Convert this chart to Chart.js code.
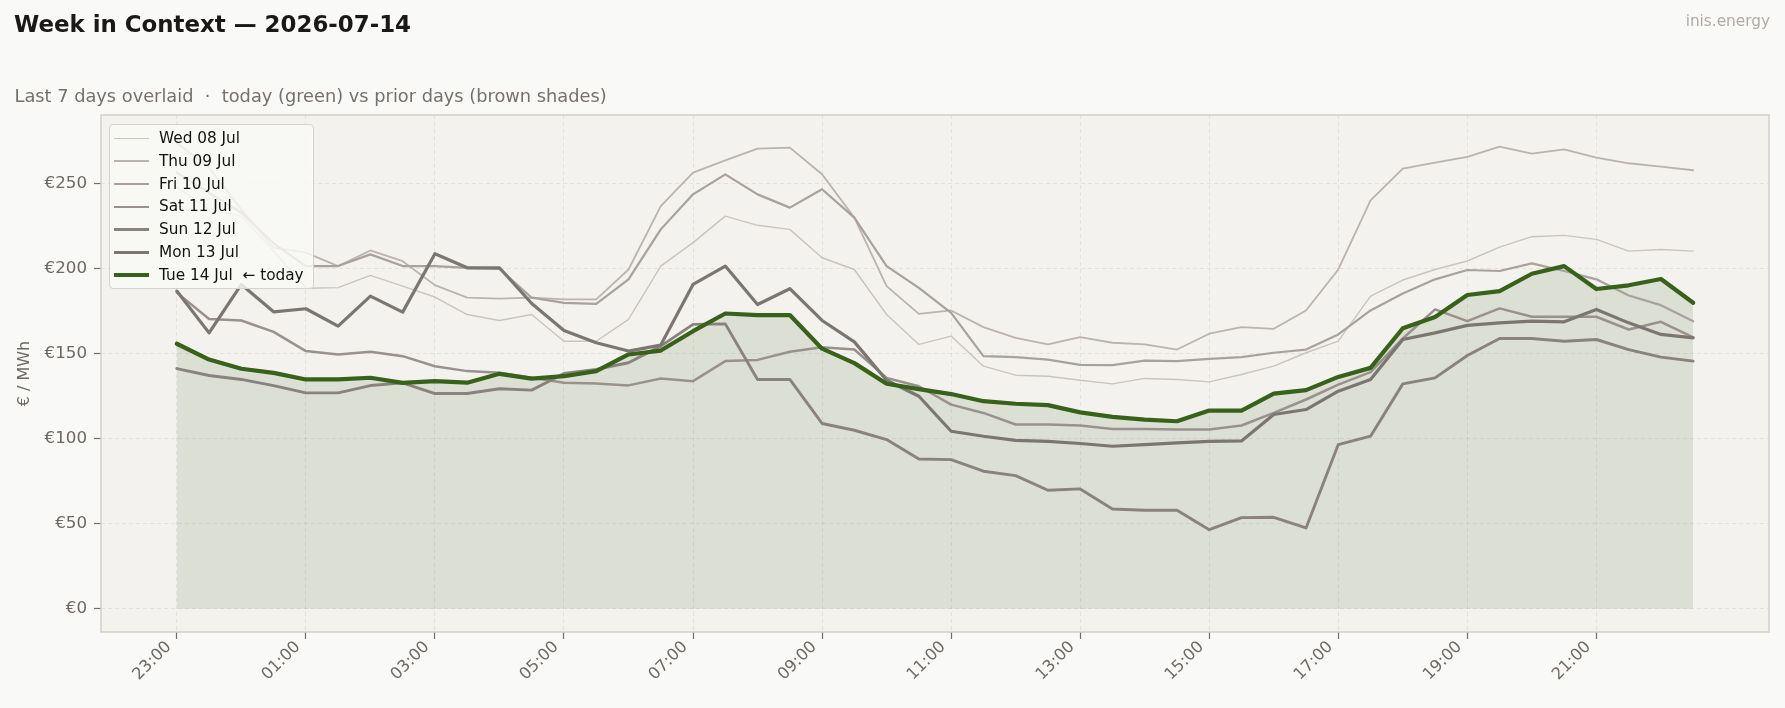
<!DOCTYPE html>
<html>
<head>
<meta charset="utf-8">
<script src="https://cdn.jsdelivr.net/npm/chart.js@4/dist/chart.umd.min.js"></script>
<style>
    html, body { margin: 0; padding: 0; background: #f9f9f7; }
    #wrap { position: relative; width: 1785px; height: 708px; font-family: 'DejaVu Sans', sans-serif; overflow: hidden; }
    #chart { position: absolute; left: 0; top: 0; }
    .title { position: absolute; left: 14px; top: 12.5px; font-size: 22.9px; line-height: 22.9px; font-weight: bold; color: #1a1818; white-space: pre; }
    .subtitle { position: absolute; left: 14.5px; top: 86.5px; font-size: 17.8px; line-height: 17.8px; color: #75706b; white-space: pre; }
    .brand { position: absolute; right: 15px; top: 14px; font-size: 15.3px; line-height: 15.3px; color: #b0aba7; }
    .legend { position: absolute; left: 109px; top: 124px; width: 205px; height: 165px; box-sizing: border-box;
              background: rgba(249, 249, 247, 0.82); border: 1px solid #d6d2cd; border-radius: 4px; padding-top: 2px; }
    .legend .row { position: relative; height: 22.8px; line-height: 22.8px; font-size: 15.3px; color: #111; white-space: pre; }
    .legend .swatch { position: absolute; left: 3.5px; width: 35px; }
    .legend .txt { position: absolute; left: 49px; top: 0; }
</style>
</head>
<body>
<div id="wrap">
    <canvas id="chart" width="1785" height="708"></canvas>
    <div class="title">Week in Context — 2026-07-14</div>
    <div class="subtitle">Last 7 days overlaid  ·  today (green) vs prior days (brown shades)</div>
    <div class="brand">inis.energy</div>
    <div class="legend" id="legend"></div>
</div>
<script>
// Half-hour slots, day starts at 23:00
const halfHours = ['23:00','23:30','00:00','00:30','01:00','01:30','02:00','02:30','03:00','03:30',
    '04:00','04:30','05:00','05:30','06:00','06:30','07:00','07:30','08:00','08:30',
    '09:00','09:30','10:00','10:30','11:00','11:30','12:00','12:30','13:00','13:30',
    '14:00','14:30','15:00','15:30','16:00','16:30','17:00','17:30','18:00','18:30',
    '19:00','19:30','20:00','20:30','21:00','21:30','22:00','22:30'];

const priceTicks = [0, 50, 100, 150, 200, 250];

// Prices in EUR/MWh
const wed08 = [248,235,231,210.5,188.6,188.9,196.1,189.8,183.4,173.1,
    169.6,173.1,157.4,157.4,170.2,201.6,215.4,231,225.6,223.2,
    206.5,199.6,173.1,155.5,160.4,142.7,137.4,136.8,134.4,132.3,
    135.5,134.9,133.5,137.8,142.7,150.6,157.4,183.9,193.4,199.6,
    204.6,212.8,218.9,219.7,217.3,210.4,211.4,210.4];
const thu09 = [274,259.5,235,212.4,209.5,201.6,210.8,204.5,190.4,183,
    182.4,183,182,182,199.6,236.9,256.6,263.8,270.7,271.3,
    255.6,230.1,189.8,173.5,175.5,165.7,159.4,155.5,159.8,156.5,
    155.5,152.5,161.8,165.7,164.7,175.5,199.6,240.3,258.9,262.5,
    265.8,271.9,267.8,270.3,265.4,262.1,260.1,258];
const fri10 = [256.6,244.8,233,215,201.6,201.6,208.5,201.6,201.6,200.6,
    200,183,180,179.4,193.8,223.2,243.8,255.6,243.8,236,
    246.8,230.1,201.6,188.8,174.1,148.6,148,146.6,143.5,143.3,
    146,145.7,147,148,150.6,152.5,161.4,175.5,185.5,193.8,
    199.3,198.7,203.2,198.7,193.8,184.3,178.6,169.2];
const sat11 = [186,170.5,169.6,162.9,151.6,149.6,151.2,148.6,142.7,139.8,
    138.8,135.9,132.9,132.5,131.4,135.5,133.9,145.7,146.4,151.2,
    153.9,152.5,135.8,130.9,120.1,115.2,108.4,108.4,107.8,105.8,
    105.8,105.4,105.4,107.8,115.2,123.1,131.9,139.2,159,176.1,
    169.2,176.7,171.8,171.8,171.8,164.3,168.8,159.6];
const sun12 = [141.3,137.2,134.9,131.3,127,127,131.3,132.9,126.6,126.6,
    129.4,128.6,138.4,140.8,144.7,154.5,167.3,167.6,134.9,134.9,
    109,105,99.5,88.1,87.7,80.9,78.3,69.7,70.5,58.7,
    57.9,57.9,46.5,53.6,53.8,47.5,96.6,101.5,132.3,135.8,
    149,159,159,157.4,158.4,152.5,148,145.7];
const mon13 = [186.9,162.3,190.8,174.7,176.5,166.3,183.9,174.5,208.9,200.6,
    200.6,179.6,163.7,156.5,151.6,155.1,190.8,201.6,179,188.3,
    169.6,157,134.4,125,104.4,101.5,99.1,98.5,97.2,95.6,
    96.6,97.6,98.5,98.7,114.3,117.2,128,134.9,158.4,162.3,
    166.7,168.2,169.2,168.8,176.1,168.2,161.4,159.4];
const tue14 = [155.9,146.6,141.2,138.8,134.9,134.9,135.9,132.9,133.9,133,
    138.2,135.4,136.8,139.8,149.6,151.9,163.3,173.7,172.8,172.8,
    153,144.5,132.4,129.2,126.3,122.1,120.6,119.8,115.5,112.9,
    111.3,110.3,116.6,116.6,126.6,128.6,136.4,141.7,165,171.7,
    184.6,186.9,197.1,201.6,188.1,190.3,194,180];

const dayLabels = ['Wed 08 Jul', 'Thu 09 Jul', 'Fri 10 Jul', 'Sat 11 Jul', 'Sun 12 Jul', 'Mon 13 Jul', 'Tue 14 Jul  \u2190 today'];
const dayValues = [wed08, thu09, fri10, sat11, sun12, mon13, tue14];

// line styles (older days lighter and thinner)
const dayColors = ['#cac4bf', '#bab3ae', '#a9a19d', '#9a918d', '#89827e', '#7b7672', '#38611a'];
const dayWidths = [1.4, 1.8, 2.2, 2.5, 2.9, 3.2, 4.2];
const todayIndex = 6;

const gridColor = 'rgba(200, 195, 189, 0.45)';
const tickText = '#6e6964';

const datasets = dayValues.map((values, k) => ({
    label: dayLabels[k],
    data: values.map((v, i) => ({ x: i, y: v })),
    borderColor: dayColors[k],
    borderWidth: dayWidths[k],
    backgroundColor: k === todayIndex ? 'rgba(58, 94, 26, 0.12)' : 'transparent',
    fill: k === todayIndex ? 'origin' : false,
    pointRadius: 0,
    tension: 0,
    borderJoinStyle: 'round',
    borderCapStyle: 'round',
    order: dayValues.length - 1 - k
}));

// Plot background and frame
const plotFrame = {
    id: 'plotFrame',
    beforeDraw(chart) {
        const { ctx, chartArea: a } = chart;
        ctx.save();
        ctx.fillStyle = '#f3f2ee';
        ctx.fillRect(a.left, a.top, a.right - a.left, a.bottom - a.top);
        ctx.restore();
    },
    afterDraw(chart) {
        const { ctx, chartArea: a } = chart;
        ctx.save();
        ctx.strokeStyle = '#d3cfc9';
        ctx.lineWidth = 1.5;
        ctx.strokeRect(a.left, a.top, a.right - a.left, a.bottom - a.top);
        ctx.restore();
    }
};

Chart.defaults.font.family = "'DejaVu Sans', sans-serif";

new Chart(document.getElementById('chart'), {
    type: 'line',
    data: { datasets: datasets },
    options: {
        responsive: false,
        animation: false,
        layout: { padding: { left: 0, top: 115, right: 16, bottom: 0 } },
        plugins: {
            legend: { display: false },
            tooltip: { enabled: false },
            filler: { drawTime: 'beforeDatasetsDraw' }
        },
        scales: {
            x: {
                type: 'linear',
                min: -2.35,
                max: 49.35,
                afterBuildTicks: scale => {
                    scale.ticks = halfHours.map((t, i) => ({ value: i })).filter(t => t.value % 4 === 0);
                },
                afterFit: scale => { scale.height = 76; },
                ticks: {
                    autoSkip: false,
                    minRotation: 45,
                    maxRotation: 45,
                    padding: -1.5,
                    labelOffset: -8,
                    color: tickText,
                    font: { size: 16.3 },
                    callback: v => halfHours[v]
                },
                grid: { color: gridColor, lineWidth: 0.8, tickLength: 7, tickColor: '#6f6f6f', tickWidth: 1.2 },
                border: { display: false, dash: [4, 3] }
            },
            y: {
                min: -13.7,
                max: 290.5,
                afterBuildTicks: scale => {
                    scale.ticks = priceTicks.map(v => ({ value: v }));
                },
                afterFit: scale => { scale.width = 101; },
                ticks: {
                    padding: 7,
                    color: tickText,
                    font: { size: 16.7 },
                    callback: v => '\u20ac' + v
                },
                title: {
                    display: true,
                    text: '\u20ac / MWh',
                    color: tickText,
                    font: { size: 16 },
                    padding: { top: 15, bottom: 0 }
                },
                grid: { color: gridColor, lineWidth: 0.8, tickLength: 7, tickColor: '#6f6f6f', tickWidth: 1.2 },
                border: { display: false, dash: [4, 3] }
            }
        }
    },
    plugins: [plotFrame]
});

// Legend inside the plot area
const legend = document.getElementById('legend');
dayLabels.forEach((label, k) => {
    const row = document.createElement('div');
    row.className = 'row';
    const sw = document.createElement('div');
    sw.className = 'swatch';
    sw.style.height = dayWidths[k] + 'px';
    sw.style.top = (11.4 - dayWidths[k] / 2) + 'px';
    sw.style.background = dayColors[k];
    const txt = document.createElement('div');
    txt.className = 'txt';
    txt.textContent = label;
    row.appendChild(sw);
    row.appendChild(txt);
    legend.appendChild(row);
});
</script>
</body>
</html>
